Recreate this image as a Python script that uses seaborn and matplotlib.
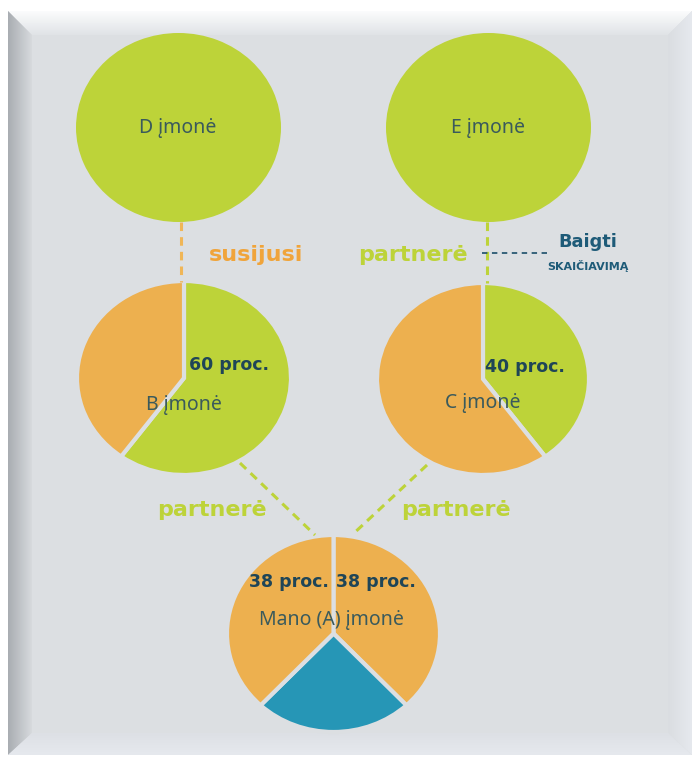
import matplotlib
matplotlib.use("Agg")
import matplotlib.pyplot as plt
import seaborn as sns
import numpy as np
from matplotlib.patches import Polygon, Rectangle
from matplotlib.colors import LinearSegmentedColormap

# duomenys
company_names = ["D įmonė", "E įmonė", "B įmonė", "C įmonė", "Mano (A) įmonė"]
b_shares = [60, 40]          # žalia (partnerė D), oranžinė
c_shares = [40, 60]          # žalia (partnerė E), oranžinė
a_shares = [38, 24, 38]      # C dalis, kita, B dalis
share_labels = ["60 proc.", "40 proc.", "38 proc.", "38 proc."]
relation_labels = ["susijusi", "partnerė", "partnerė", "partnerė"]
stop_labels = ["Baigti", "SKAIČIAVIMĄ"]

sns.set_theme(style="white")
plt.rcParams["font.family"] = ["Noto Sans", "DejaVu Sans"]

GREEN = "#BDD339"
ORANGE = "#EDB04F"
BLUE = "#2696B6"
BG = "#DCDFE2"
DARK = "#1F4557"
TEXT = "#3A5A5C"

W, H = 696, 757
fig = plt.figure(figsize=(W / 100, H / 100), dpi=100, facecolor="white")

# fonas su rėmeliu
ax_bg = fig.add_axes([0, 0, 1, 1])
ax_bg.set_xlim(0, W)
ax_bg.set_ylim(H, 0)
ax_bg.axis("off")
ax_bg.add_patch(Rectangle((8, 11), 684, 744, facecolor=BG, edgecolor="none", zorder=0))


def bevel(points, c0, c1, vertical):
    poly = Polygon(points, closed=True, facecolor="none", edgecolor="none")
    ax_bg.add_patch(poly)
    xs = [p[0] for p in points]
    ys = [p[1] for p in points]
    grad = np.linspace(0, 1, 64)
    grad = grad[:, None] if vertical else grad[None, :]
    cmap = LinearSegmentedColormap.from_list("b", [c0, c1])
    im = ax_bg.imshow(grad, cmap=cmap, aspect="auto", origin="upper",
                      extent=(min(xs), max(xs), max(ys), min(ys)), zorder=2)
    im.set_clip_path(poly)


bevel([(8, 11), (692, 11), (668, 35), (32, 35)], "#FBFCFD", "#E0E3E6", True)
bevel([(8, 11), (32, 35), (32, 733), (8, 755)], "#A9ADB2", "#D7DADD", False)
bevel([(692, 11), (692, 755), (668, 733), (668, 35)], "#DADDE1", "#E6E9EE", False)
bevel([(8, 755), (32, 733), (668, 733), (692, 755)], "#DDE0E5", "#E6E9EE", True)
ax_bg.set_xlim(0, W)
ax_bg.set_ylim(H, 0)


def add_pie(box, values, colors, gap=True):
    x0, y0, x1, y1 = box
    pad = 4
    ax = fig.add_axes([(x0 - pad) / W, 1 - (y1 + pad) / H,
                       (x1 - x0 + 2 * pad) / W, (y1 - y0 + 2 * pad) / H])
    ax.patch.set_alpha(0)
    ax.pie(values, colors=colors, startangle=90, counterclock=False,
           wedgeprops=dict(edgecolor=BG if gap else "none", linewidth=3))
    rx = 1 + 2 * pad / (x1 - x0)
    ry = 1 + 2 * pad / (y1 - y0)
    ax.set_xlim(-rx, rx)
    ax.set_ylim(-ry, ry)
    ax.set_aspect("auto")
    ax.axis("off")
    return ax


add_pie((76, 33, 281, 222), [1], [GREEN], gap=False)
add_pie((386, 33, 591, 222), [1], [GREEN], gap=False)
add_pie((77, 281, 291, 475), b_shares, [GREEN, ORANGE])
add_pie((377, 283, 589, 475), c_shares, [GREEN, ORANGE])
add_pie((227, 535, 440, 732), a_shares, [ORANGE, BLUE, ORANGE])

# jungtys ir užrašai
ax = fig.add_axes([0, 0, 1, 1])
ax.patch.set_alpha(0)
ax.set_xlim(0, W)
ax.set_ylim(H, 0)
ax.axis("off")

dash = (0, (2.8, 2.0))
ax.plot([181, 181], [222, 282], color="#F0B657", lw=2.2, ls=dash)
ax.plot([487, 487], [222, 283], color=GREEN, lw=2.2, ls=dash)
ax.plot([240, 315], [463, 535], color=GREEN, lw=2.2, ls=dash)
ax.plot([427, 352], [465, 535], color=GREEN, lw=2.2, ls=dash)
ax.plot([482, 550], [253, 253], color="#2A5A73", lw=1.3, ls=(0, (3, 2.5)))

name_pos = [(178, 128), (488, 128), (184, 405), (483, 403), (331, 620)]
for name, (x, y) in zip(company_names, name_pos):
    ax.text(x, y, name, ha="center", va="center", fontsize=14, color=TEXT)

share_pos = [(229, 365), (525, 367), (289, 582), (376, 582)]
for lab, (x, y) in zip(share_labels, share_pos):
    ax.text(x, y, lab, ha="center", va="center", fontsize=12.5,
            fontweight="bold", color=DARK, family="DejaVu Sans")

rel_pos = [(256, 255), (413, 255), (212, 510), (456, 510)]
rel_col = ["#F0A43A", GREEN, GREEN, GREEN]
for lab, (x, y), c in zip(relation_labels, rel_pos, rel_col):
    ax.text(x, y, lab, ha="center", va="center", fontsize=16,
            fontweight="bold", color=c, family="DejaVu Sans")

ax.text(588, 242, stop_labels[0], ha="center", va="center", fontsize=12.8,
        fontweight="bold", color="#1E5B78", family="DejaVu Sans")
ax.text(588, 266, stop_labels[1], ha="center", va="center", fontsize=8,
        fontweight="bold", color="#1E5B78", family="DejaVu Sans")

fig.savefig("out.png", dpi=100, facecolor="white")
